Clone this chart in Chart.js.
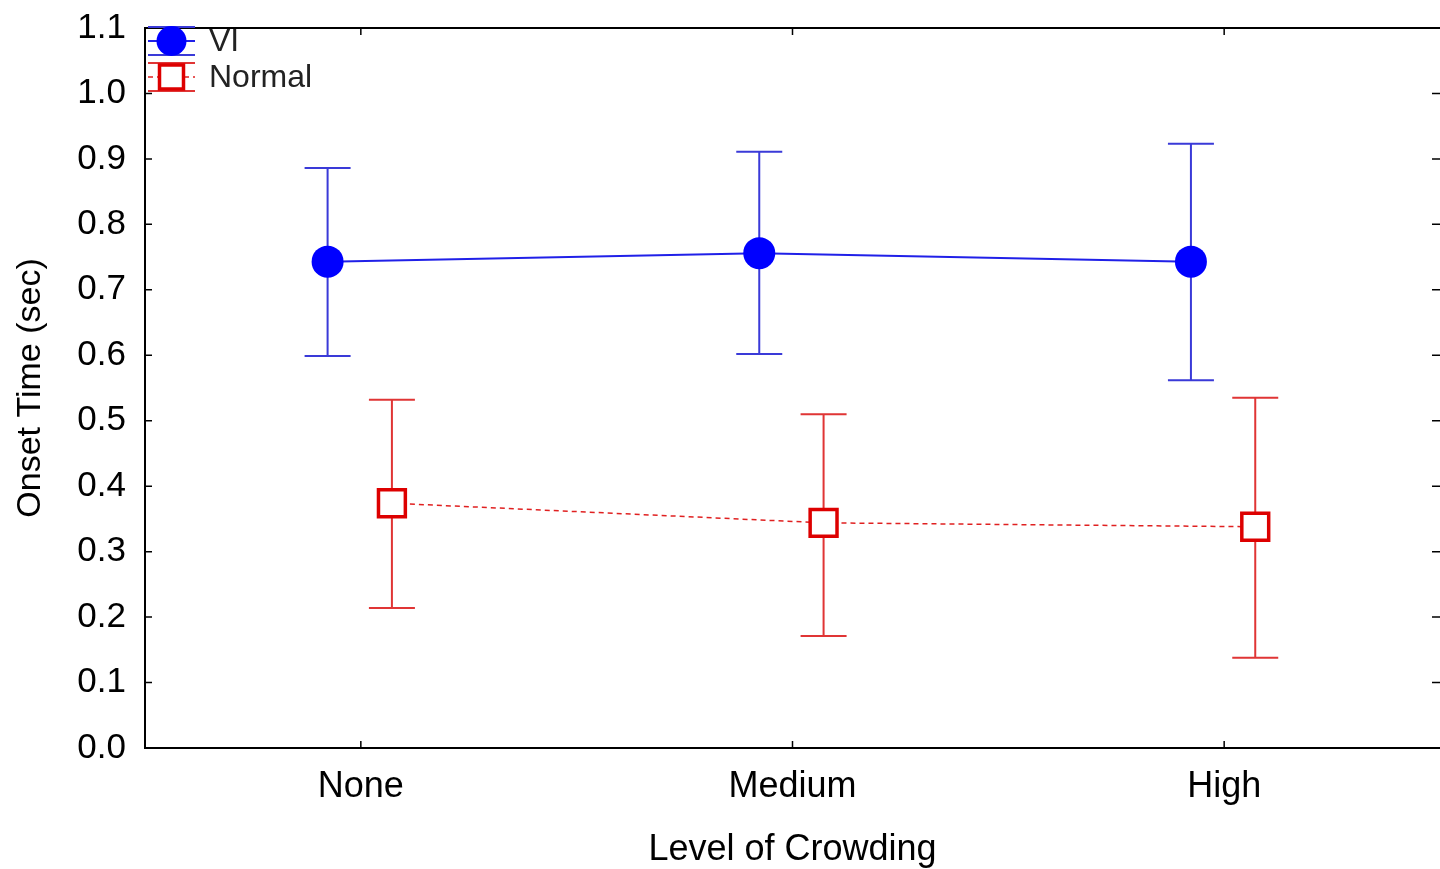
<!DOCTYPE html>
<html>
<head>
<meta charset="utf-8">
<script src="https://cdn.jsdelivr.net/npm/chart.js@4"></script>
<style>
  body { margin: 0; background: #fff; }
  #wrap { width: 1440px; height: 869px; }
</style>
</head>
<body>
<div id="wrap"><canvas id="c"></canvas></div>
<script>
const categories = ['None', 'Medium', 'High']
const yTicks = [0, 0.1, 0.2, 0.3, 0.4, 0.5, 0.6, 0.7, 0.8, 0.9, 1.0, 1.1]

const viMean = [0.743, 0.756, 0.743]
const viUpper = [0.886, 0.911, 0.923]
const viLower = [0.599, 0.602, 0.562]

const normalMean = [0.374, 0.344, 0.338]
const normalUpper = [0.532, 0.510, 0.535]
const normalLower = [0.214, 0.171, 0.138]

// groups are drawn side by side around each category
const viShift = -0.077
const normalShift = 0.072

const FONT = 'Liberation Sans, Arial, sans-serif'

const points = (vals, shift) => vals.map((v, i) => ({ x: i + shift, y: v }))

const errorBars = {
  id: 'errorBars',
  beforeDatasetsDraw(chart) {
    const { ctx } = chart
    const x = chart.scales.x
    const y = chart.scales.y
    chart.data.datasets.forEach((ds) => {
      ctx.save()
      ctx.strokeStyle = ds.barColor
      ctx.lineWidth = 2
      ds.data.forEach((p, i) => {
        const px = x.getPixelForValue(p.x)
        const top = y.getPixelForValue(ds.upper[i])
        const bot = y.getPixelForValue(ds.lower[i])
        ctx.beginPath()
        ctx.moveTo(px, top); ctx.lineTo(px, bot)
        ctx.moveTo(px - 23, top); ctx.lineTo(px + 23, top)
        ctx.moveTo(px - 23, bot); ctx.lineTo(px + 23, bot)
        ctx.stroke()
      })
      ctx.restore()
    })
  },
}

const frame = {
  id: 'frame',
  afterDraw(chart) {
    const { ctx, chartArea: a } = chart
    const x = chart.scales.x
    const y = chart.scales.y
    ctx.save()
    ctx.strokeStyle = '#000'
    ctx.lineWidth = 2
    ctx.beginPath()
    ctx.moveTo(a.left, a.top); ctx.lineTo(a.right, a.top)
    ctx.stroke()
    ctx.lineWidth = 1.5
    ctx.beginPath()
    yTicks.forEach((t) => {
      const py = y.getPixelForValue(t)
      ctx.moveTo(a.left, py); ctx.lineTo(a.left + 7, py)
      ctx.moveTo(a.right, py); ctx.lineTo(a.right - 8, py)
    })
    categories.forEach((c, i) => {
      const px = x.getPixelForValue(i)
      ctx.moveTo(px, a.top); ctx.lineTo(px, a.top + 7)
      ctx.moveTo(px, a.bottom); ctx.lineTo(px, a.bottom - 7)
    })
    ctx.stroke()

    // legend
    const lx = 148, lw = 47
    const items = [
      { ds: chart.data.datasets[0], cy: 41, half: 14, label: 'VI' },
      { ds: chart.data.datasets[1], cy: 77, half: 14, label: 'Normal' },
    ]
    items.forEach((it) => {
      const ds = it.ds
      ctx.strokeStyle = ds.barColor
      ctx.lineWidth = 2
      ctx.beginPath()
      ctx.moveTo(lx, it.cy - it.half); ctx.lineTo(lx + lw, it.cy - it.half)
      ctx.moveTo(lx, it.cy + it.half); ctx.lineTo(lx + lw, it.cy + it.half)
      ctx.stroke()
      ctx.strokeStyle = ds.borderColor
      ctx.setLineDash(ds.borderDash || [])
      ctx.lineWidth = ds.borderWidth
      ctx.beginPath()
      ctx.moveTo(lx, it.cy); ctx.lineTo(lx + lw, it.cy)
      ctx.stroke()
      ctx.setLineDash([])
      ctx.fillStyle = ds.pointBackgroundColor
      ctx.strokeStyle = ds.pointBorderColor
      ctx.lineWidth = ds.pointBorderWidth
      ctx.beginPath()
      if (ds.pointStyle === 'circle') {
        ctx.arc(lx + lw / 2, it.cy, ds.legendRadius, 0, Math.PI * 2)
        ctx.fill()
      } else {
        ctx.fillStyle = '#fff'
        ctx.rect(lx + lw / 2 - 12, it.cy - 12, 24, 24)
        ctx.fill()
        ctx.stroke()
      }
      ctx.fillStyle = '#222'
      ctx.font = '32px ' + FONT
      ctx.textAlign = 'left'
      ctx.textBaseline = 'middle'
      ctx.fillText(it.label, 209, it.cy + 1)
    })
    ctx.restore()
  },
}

window.addEventListener('load', () => {
  const ctx = document.getElementById('c').getContext('2d')
  new Chart(ctx, {
    type: 'line',
    data: {
      datasets: [
        {
          label: 'VI',
          data: points(viMean, viShift),
          upper: viUpper,
          lower: viLower,
          barColor: '#3a3ad8',
          borderColor: '#2020e8',
          borderWidth: 2,
          pointStyle: 'circle',
          pointRadius: 16,
          legendRadius: 15,
          pointBackgroundColor: '#0000ff',
          pointBorderColor: '#0000ff',
          pointBorderWidth: 0,
        },
        {
          label: 'Normal',
          data: points(normalMean, normalShift),
          upper: normalUpper,
          lower: normalLower,
          barColor: '#e03535',
          borderColor: '#e02020',
          borderWidth: 1.5,
          borderDash: [5, 4],
          pointStyle: 'rect',
          pointRadius: 19,
          legendRadius: 17,
          pointBackgroundColor: '#ffffff',
          pointBorderColor: '#dd0000',
          pointBorderWidth: 3.5,
        },
      ],
    },
    options: {
      responsive: true,
      maintainAspectRatio: false,
      animation: false,
      layout: { autoPadding: false, padding: { top: 28, left: 0, right: 0, bottom: 0 } },
      plugins: {
        legend: { display: false },
        tooltip: { enabled: false },
      },
      elements: { line: { tension: 0 } },
      scales: {
        x: {
          type: 'linear',
          min: -0.5,
          max: 2.5,
          afterFit: (s) => { s.height = 121; s.paddingLeft = 0; s.paddingRight = 0 },
          afterBuildTicks: (s) => { s.ticks = categories.map((c, i) => ({ value: i })) },
          grid: { display: false, drawTicks: false },
          border: { display: true, color: '#000', width: 2 },
          ticks: {
            padding: 17,
            color: '#000',
            font: { family: FONT, size: 36 },
            callback: (v) => categories[v],
          },
          title: {
            display: true,
            text: 'Level of Crowding',
            color: '#000',
            font: { family: FONT, size: 36 },
            padding: { top: 0, bottom: -3 },
          },
        },
        y: {
          min: 0,
          max: 1.1,
          afterFit: (s) => { s.width = 145; s.paddingTop = 0; s.paddingBottom = 0 },
          afterBuildTicks: (s) => { s.ticks = yTicks.map((v) => ({ value: v })) },
          grid: { display: false, drawTicks: false },
          border: { display: true, color: '#000', width: 2 },
          ticks: {
            padding: 19,
            color: '#000',
            font: { family: FONT, size: 35 },
            callback: (v) => v.toFixed(1),
          },
          title: {
            display: true,
            text: 'Onset Time (sec)',
            color: '#000',
            font: { family: FONT, size: 34 },
            padding: { top: 10, bottom: 0 },
          },
        },
      },
    },
    plugins: [errorBars, frame],
  })
})
</script>
</body>
</html>
